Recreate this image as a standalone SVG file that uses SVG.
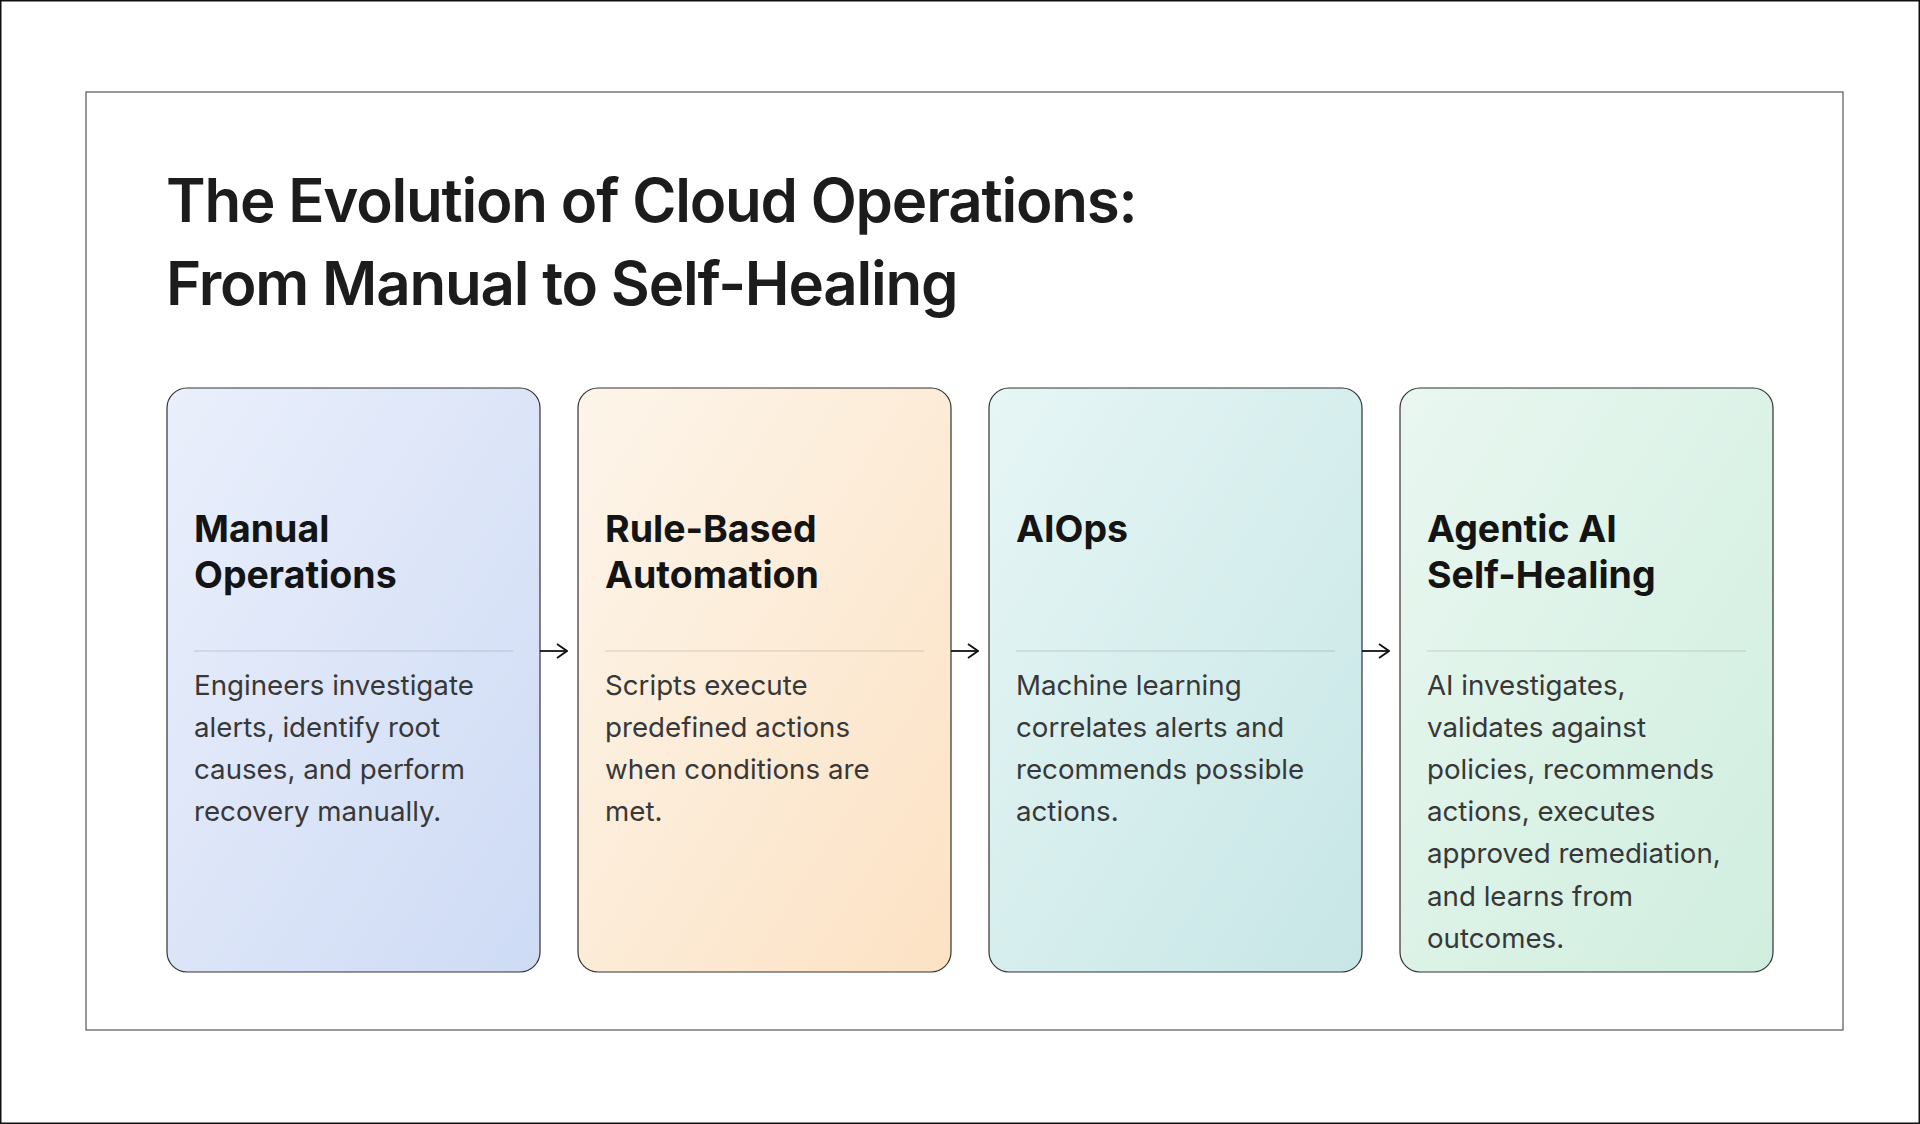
<svg xmlns="http://www.w3.org/2000/svg" width="1920" height="1124" viewBox="0 0 1920 1124">
  <defs>
    <linearGradient id="g1" x1="0" y1="0" x2="1" y2="1">
      <stop offset="0" stop-color="#eaeffb"/>
      <stop offset="1" stop-color="#cedbf5"/>
    </linearGradient>
    <linearGradient id="g2" x1="0" y1="0" x2="1" y2="1">
      <stop offset="0" stop-color="#fdf5ea"/>
      <stop offset="1" stop-color="#fce2c4"/>
    </linearGradient>
    <linearGradient id="g3" x1="0" y1="0" x2="1" y2="1">
      <stop offset="0" stop-color="#e6f6f5"/>
      <stop offset="1" stop-color="#c7e6e6"/>
    </linearGradient>
    <linearGradient id="g4" x1="0" y1="0" x2="1" y2="1">
      <stop offset="0" stop-color="#e9f7f0"/>
      <stop offset="1" stop-color="#d0eedf"/>
    </linearGradient>
    <marker id="arr" viewBox="0 0 12 16" refX="11" refY="8" markerWidth="12" markerHeight="16" markerUnits="userSpaceOnUse" orient="auto">
      <path d="M1,1 L11,8 L1,15" fill="none" stroke="#111" stroke-width="1.8"/>
    </marker>
  </defs>
  <style>
    .frame { fill: #ffffff; stroke: #111111; stroke-width: 1.5; }
    .panel { fill: #ffffff; stroke: #555555; stroke-width: 1.2; }
    .title { font-family: Inter, "Noto Sans", sans-serif; font-size: 60px; font-weight: 600; letter-spacing: -1.2px; fill: #1c1c1c; }
    .card { stroke: #333333; stroke-width: 1.2; }
    .head { font-family: Inter, "Noto Sans", sans-serif; font-size: 37.5px; font-weight: 700; fill: #141414; }
    .body { font-family: Inter, "Noto Sans", sans-serif; font-size: 27.7px; font-weight: 400; fill: #383838; }
    .div { stroke: #000000; stroke-opacity: 0.1; stroke-width: 1.5; }
    .conn { stroke: #111111; stroke-width: 1.8; fill: none; }
  </style>
  <rect class="frame" x="0.75" y="0.75" width="1918.5" height="1122.5"/>
  <rect class="panel" x="86" y="92" width="1757" height="938"/>
  <g id="title">
    <text class="title" x="166" y="222">The Evolution of Cloud Operations:</text>
    <text class="title" x="166" y="305">From Manual to Self-Healing</text>
  </g>
  <g id="card-manual">
    <rect class="card" x="167" y="388" width="373" height="584" rx="20" fill="url(#g1)"/>
    <text class="head" x="194" y="542">Manual</text>
    <text class="head" x="194" y="588">Operations</text>
    <line class="div" x1="194" y1="651" x2="513" y2="651"/>
    <text class="body" x="194" y="694.5">Engineers investigate</text>
    <text class="body" x="194" y="736.7">alerts, identify root</text>
    <text class="body" x="194" y="778.9">causes, and perform</text>
    <text class="body" x="194" y="821.1">recovery manually.</text>
  </g>
  <g id="card-rule">
    <rect class="card" x="578" y="388" width="373" height="584" rx="20" fill="url(#g2)"/>
    <text class="head" x="605" y="542">Rule-Based</text>
    <text class="head" x="605" y="588">Automation</text>
    <line class="div" x1="605" y1="651" x2="924" y2="651"/>
    <text class="body" x="605" y="694.5">Scripts execute</text>
    <text class="body" x="605" y="736.7">predefined actions</text>
    <text class="body" x="605" y="778.9">when conditions are</text>
    <text class="body" x="605" y="821.1">met.</text>
  </g>
  <g id="card-aiops">
    <rect class="card" x="989" y="388" width="373" height="584" rx="20" fill="url(#g3)"/>
    <text class="head" x="1016" y="542">AIOps</text>
    <line class="div" x1="1016" y1="651" x2="1335" y2="651"/>
    <text class="body" x="1016" y="694.5">Machine learning</text>
    <text class="body" x="1016" y="736.7">correlates alerts and</text>
    <text class="body" x="1016" y="778.9">recommends possible</text>
    <text class="body" x="1016" y="821.1">actions.</text>
  </g>
  <g id="card-agentic">
    <rect class="card" x="1400" y="388" width="373" height="584" rx="20" fill="url(#g4)"/>
    <text class="head" x="1427" y="542">Agentic AI</text>
    <text class="head" x="1427" y="588">Self-Healing</text>
    <line class="div" x1="1427" y1="651" x2="1746" y2="651"/>
    <text class="body" x="1427" y="694.5">AI investigates,</text>
    <text class="body" x="1427" y="736.7">validates against</text>
    <text class="body" x="1427" y="778.9">policies, recommends</text>
    <text class="body" x="1427" y="821.1">actions, executes</text>
    <text class="body" x="1427" y="863.3">approved remediation,</text>
    <text class="body" x="1427" y="905.5">and learns from</text>
    <text class="body" x="1427" y="947.7">outcomes.</text>
  </g>
  <g id="connectors">
    <line class="conn" x1="540" y1="651" x2="567" y2="651" marker-end="url(#arr)"/>
    <line class="conn" x1="951" y1="651" x2="978" y2="651" marker-end="url(#arr)"/>
    <line class="conn" x1="1362" y1="651" x2="1389" y2="651" marker-end="url(#arr)"/>
  </g>
</svg>
